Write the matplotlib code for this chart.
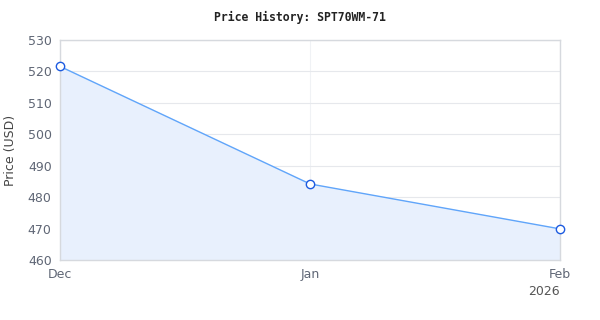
import matplotlib
matplotlib.use("Agg")
import matplotlib.pyplot as plt
import matplotlib.dates as mdates
import datetime as dt

dates = [dt.date(2025, 12, 1), dt.date(2026, 1, 1), dt.date(2026, 2, 1)]
prices = [521.6, 484.2, 469.9]
tick_labels = ["Dec", "Jan", "Feb"]
y_ticks = [460, 470, 480, 490, 500, 510, 520, 530]

fig = plt.figure(figsize=(6, 3.2), dpi=100)
ax = fig.add_axes([0.1, 0.1875, 0.8333, 0.6875])

ax.fill_between(dates, prices, 460, color="#e8f0fd", zorder=1)
ax.plot(dates, prices, color="#60a5fa", lw=1, zorder=2)
ax.plot(dates, prices, ls="none", marker="o", ms=6, mfc="white",
        mec="#1d5be0", mew=1, zorder=3, clip_on=False)

ax.set_xlim(dates[0], dates[-1])
ax.set_ylim(460, 530)
ax.set_yticks(y_ticks)
ax.set_xticks(dates)
ax.set_xticklabels(tick_labels)

ax.grid(True, color="#e6e8ec", lw=0.8)
ax.xaxis.grid(True, color="#f0f2f5", lw=0.8)
ax.set_axisbelow(True)
for s in ax.spines.values():
    s.set_color("#d6d9de")
    s.set_linewidth(1)

ax.tick_params(length=0, labelsize=9, labelcolor="#5f6675", pad=6)
ax.set_ylabel("Price (USD)", fontsize=9, color="#444444", labelpad=8)

fig.text(0.933, 0.09, "2026", ha="right", va="center", fontsize=9, color="#555555")
fig.text(0.5, 0.945, "Price History: SPT70WM-71", ha="center", va="center",
         fontsize=8.3, fontweight="bold", family="DejaVu Sans Mono", color="#222222")

fig.savefig("out.png", dpi=100, facecolor="white")
